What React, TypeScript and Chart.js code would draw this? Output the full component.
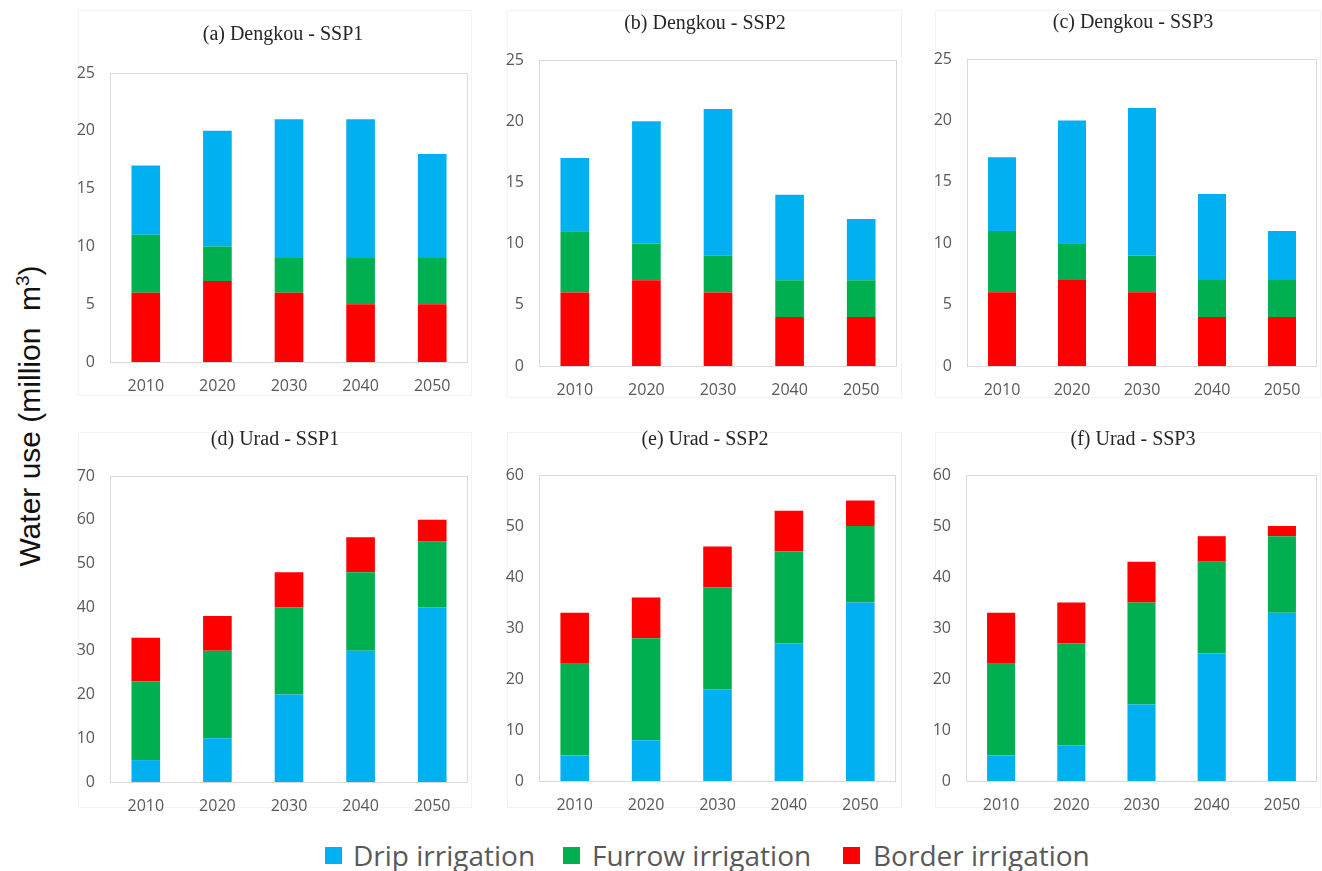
import React, { useEffect, useRef } from "react";
import { Chart, registerables } from "chart.js";

Chart.register(...registerables);

// Category axis
const years = ["2010", "2020", "2030", "2040", "2050"];

// Dengkou water use (million m3) by irrigation type
const dengkouSsp1Border = [6, 7, 6, 5, 5];
const dengkouSsp1Furrow = [5, 3, 3, 4, 4];
const dengkouSsp1Drip = [6, 10, 12, 12, 9];

const dengkouSsp2Border = [6, 7, 6, 4, 4];
const dengkouSsp2Furrow = [5, 3, 3, 3, 3];
const dengkouSsp2Drip = [6, 10, 12, 7, 5];

const dengkouSsp3Border = [6, 7, 6, 4, 4];
const dengkouSsp3Furrow = [5, 3, 3, 3, 3];
const dengkouSsp3Drip = [6, 10, 12, 7, 4];

// Urad water use (million m3) by irrigation type
const uradSsp1Drip = [5, 10, 20, 30, 40];
const uradSsp1Furrow = [18, 20, 20, 18, 15];
const uradSsp1Border = [10, 8, 8, 8, 5];

const uradSsp2Drip = [5, 8, 18, 27, 35];
const uradSsp2Furrow = [18, 20, 20, 18, 15];
const uradSsp2Border = [10, 8, 8, 8, 5];

const uradSsp3Drip = [5, 7, 15, 25, 33];
const uradSsp3Furrow = [18, 20, 20, 18, 15];
const uradSsp3Border = [10, 8, 8, 5, 2];

// Axis ranges
const dengkouMax = 25;
const dengkouStep = 5;
const uradSsp1Max = 70;
const uradMax = 60;
const uradStep = 10;

const SERIES_NAMES = ["Drip irrigation", "Furrow irrigation", "Border irrigation"];
const COLORS: Record<string, string> = {
  "Drip irrigation": "#00B0F0",
  "Furrow irrigation": "#00B050",
  "Border irrigation": "#FF0000",
};

type Layer = { name: string; values: number[] };
type PanelSpec = { title: string; layers: Layer[]; max: number; step: number };

// Layers are listed bottom to top of each stack
const panels: PanelSpec[] = [
  {
    title: "(a) Dengkou - SSP1",
    layers: [
      { name: "Border irrigation", values: dengkouSsp1Border },
      { name: "Furrow irrigation", values: dengkouSsp1Furrow },
      { name: "Drip irrigation", values: dengkouSsp1Drip },
    ],
    max: dengkouMax,
    step: dengkouStep,
  },
  {
    title: "(b) Dengkou - SSP2",
    layers: [
      { name: "Border irrigation", values: dengkouSsp2Border },
      { name: "Furrow irrigation", values: dengkouSsp2Furrow },
      { name: "Drip irrigation", values: dengkouSsp2Drip },
    ],
    max: dengkouMax,
    step: dengkouStep,
  },
  {
    title: "(c) Dengkou - SSP3",
    layers: [
      { name: "Border irrigation", values: dengkouSsp3Border },
      { name: "Furrow irrigation", values: dengkouSsp3Furrow },
      { name: "Drip irrigation", values: dengkouSsp3Drip },
    ],
    max: dengkouMax,
    step: dengkouStep,
  },
  {
    title: "(d) Urad - SSP1",
    layers: [
      { name: "Drip irrigation", values: uradSsp1Drip },
      { name: "Furrow irrigation", values: uradSsp1Furrow },
      { name: "Border irrigation", values: uradSsp1Border },
    ],
    max: uradSsp1Max,
    step: uradStep,
  },
  {
    title: "(e) Urad - SSP2",
    layers: [
      { name: "Drip irrigation", values: uradSsp2Drip },
      { name: "Furrow irrigation", values: uradSsp2Furrow },
      { name: "Border irrigation", values: uradSsp2Border },
    ],
    max: uradMax,
    step: uradStep,
  },
  {
    title: "(f) Urad - SSP3",
    layers: [
      { name: "Drip irrigation", values: uradSsp3Drip },
      { name: "Furrow irrigation", values: uradSsp3Furrow },
      { name: "Border irrigation", values: uradSsp3Border },
    ],
    max: uradMax,
    step: uradStep,
  },
];

// Page placement of each panel: plot box [left, top, right, bottom], title centre, outer frame
type Frame = { plot: [number, number, number, number]; title: [number, number]; outer: [number, number, number, number] };
const frames: Frame[] = [
  { plot: [110, 73, 468, 362], title: [283, 35], outer: [78, 10, 472, 396] },
  { plot: [539, 60, 897, 366], title: [705, 24], outer: [507, 10, 902, 398] },
  { plot: [967, 59, 1317, 366], title: [1133, 23], outer: [935, 10, 1321, 398] },
  { plot: [110, 476, 468, 782], title: [275, 440], outer: [78, 432, 472, 808] },
  { plot: [539, 475, 896, 781], title: [705, 440], outer: [507, 432, 902, 808] },
  { plot: [966, 475, 1317, 781], title: [1133, 440], outer: [935, 432, 1321, 808] },
];

const Y_AXIS_W = 60;
const X_AXIS_H = 40;
const RIGHT_PAD = 20;
const TICK_FONT = { family: "'Open Sans', sans-serif", size: 16 };

// Light grey box around the plotting area
const plotBox = {
  id: "plotBox",
  afterDatasetsDraw(chart: any) {
    const { left, top, right, bottom } = chart.chartArea;
    const ctx = chart.ctx;
    ctx.save();
    ctx.strokeStyle = "#d9d9d9";
    ctx.lineWidth = 1;
    ctx.strokeRect(Math.round(left) + 0.5, Math.round(top) + 0.5, Math.round(right - left) - 1, Math.round(bottom - top));
    ctx.restore();
  },
};

// Serif panel heading at a fixed spot
const panelTitle = {
  id: "panelTitle",
  afterDraw(chart: any, _args: any, opts: any) {
    if (!opts || !opts.text) return;
    const ctx = chart.ctx;
    ctx.save();
    ctx.font = "20px 'Liberation Serif', 'Times New Roman', serif";
    ctx.fillStyle = "#262626";
    ctx.textAlign = "center";
    ctx.textBaseline = "middle";
    ctx.fillText(opts.text, opts.x, opts.y);
    ctx.restore();
  },
};

function Panel({ spec, frame }: { spec: PanelSpec; frame: Frame }) {
  const ref = useRef<HTMLCanvasElement>(null);
  const [l, t, r, b] = frame.plot;
  const [tx, ty] = frame.title;
  const left = l - Y_AXIS_W;
  const top = ty - 20;
  const width = r + RIGHT_PAD - left;
  const height = b + X_AXIS_H - top;

  useEffect(() => {
    let chart: Chart | null = null;
    let cancelled = false;
    const fontsReady = (document as any).fonts
      ? Promise.all([
          (document as any).fonts.load("16px 'Open Sans'"),
          (document as any).fonts.load("20px 'Liberation Serif'"),
        ]).catch(() => null)
      : Promise.resolve(null);
    fontsReady.then(() => {
      if (cancelled || !ref.current) return;
      chart = new Chart(ref.current, {
        type: "bar",
        data: {
          labels: years,
          datasets: spec.layers.map((layer) => ({
            label: layer.name,
            data: layer.values,
            backgroundColor: COLORS[layer.name],
            borderWidth: 0,
            barPercentage: 0.4,
            categoryPercentage: 1,
          })),
        },
        options: {
          responsive: false,
          animation: false,
          devicePixelRatio: 1,
          layout: { padding: { top: t - top, left: 0, right: RIGHT_PAD, bottom: 0 } },
          plugins: {
            legend: { display: false },
            tooltip: { enabled: false },
            title: { display: false },
            panelTitle: { text: spec.title, x: tx - left, y: ty - top },
          } as any,
          scales: {
            x: {
              stacked: true,
              grid: { display: false, drawTicks: false },
              border: { display: false },
              ticks: {
                color: "#595959",
                font: TICK_FONT,
                padding: 15,
                maxRotation: 0,
                autoSkip: false,
              },
              afterFit: (s: any) => {
                s.height = X_AXIS_H;
              },
            },
            y: {
              stacked: true,
              min: 0,
              max: spec.max,
              grid: { display: false, drawTicks: false },
              border: { display: false },
              ticks: {
                stepSize: spec.step,
                color: "#595959",
                font: TICK_FONT,
                padding: 15,
              },
              afterFit: (s: any) => {
                s.width = Y_AXIS_W;
              },
            },
          },
        },
        plugins: [plotBox, panelTitle],
      });
    });
    return () => {
      cancelled = true;
      if (chart) chart.destroy();
    };
  }, []);

  return (
    <canvas
      ref={ref}
      width={width}
      height={height}
      style={{ position: "absolute", left, top, width, height, display: "block" }}
    />
  );
}

const legendItems = [
  { name: SERIES_NAMES[0], box: 325, text: 353 },
  { name: SERIES_NAMES[1], box: 563, text: 592 },
  { name: SERIES_NAMES[2], box: 843, text: 873 },
];

export default function App() {
  return (
    <div
      style={{
        position: "absolute",
        left: 0,
        top: 0,
        width: 1322,
        height: 871,
        overflow: "hidden",
        background: "#ffffff",
      }}
    >
      {frames.map((f, i) => (
        <div
          key={"outer" + i}
          style={{
            position: "absolute",
            left: f.outer[0],
            top: f.outer[1],
            width: f.outer[2] - f.outer[0],
            height: f.outer[3] - f.outer[1],
            border: "1px solid #f3f3f3",
            boxSizing: "border-box",
          }}
        />
      ))}
      {panels.map((p, i) => (
        <Panel key={p.title} spec={p} frame={frames[i]} />
      ))}
      <div
        style={{
          position: "absolute",
          left: 30,
          top: 416,
          transform: "translate(-50%, -50%) rotate(-90deg)",
          whiteSpace: "nowrap",
          fontFamily: "'Liberation Sans', Arial, sans-serif",
          fontSize: 30,
          lineHeight: "34px",
          color: "#111111",
        }}
      >
        Water use (million&nbsp; m<sup style={{ fontSize: 19, lineHeight: 0, verticalAlign: "super" }}>3</sup>)
      </div>
      {legendItems.map((it) => (
        <React.Fragment key={it.name}>
          <div
            style={{
              position: "absolute",
              left: it.box,
              top: 847,
              width: 17,
              height: 17,
              background: COLORS[it.name],
            }}
          />
          <div
            style={{
              position: "absolute",
              left: it.text,
              top: 855,
              transform: "translateY(-50%)",
              whiteSpace: "nowrap",
              fontFamily: "'Open Sans', sans-serif",
              fontSize: 28,
              lineHeight: "34px",
              color: "#595959",
            }}
          >
            {it.name}
          </div>
        </React.Fragment>
      ))}
    </div>
  );
}
